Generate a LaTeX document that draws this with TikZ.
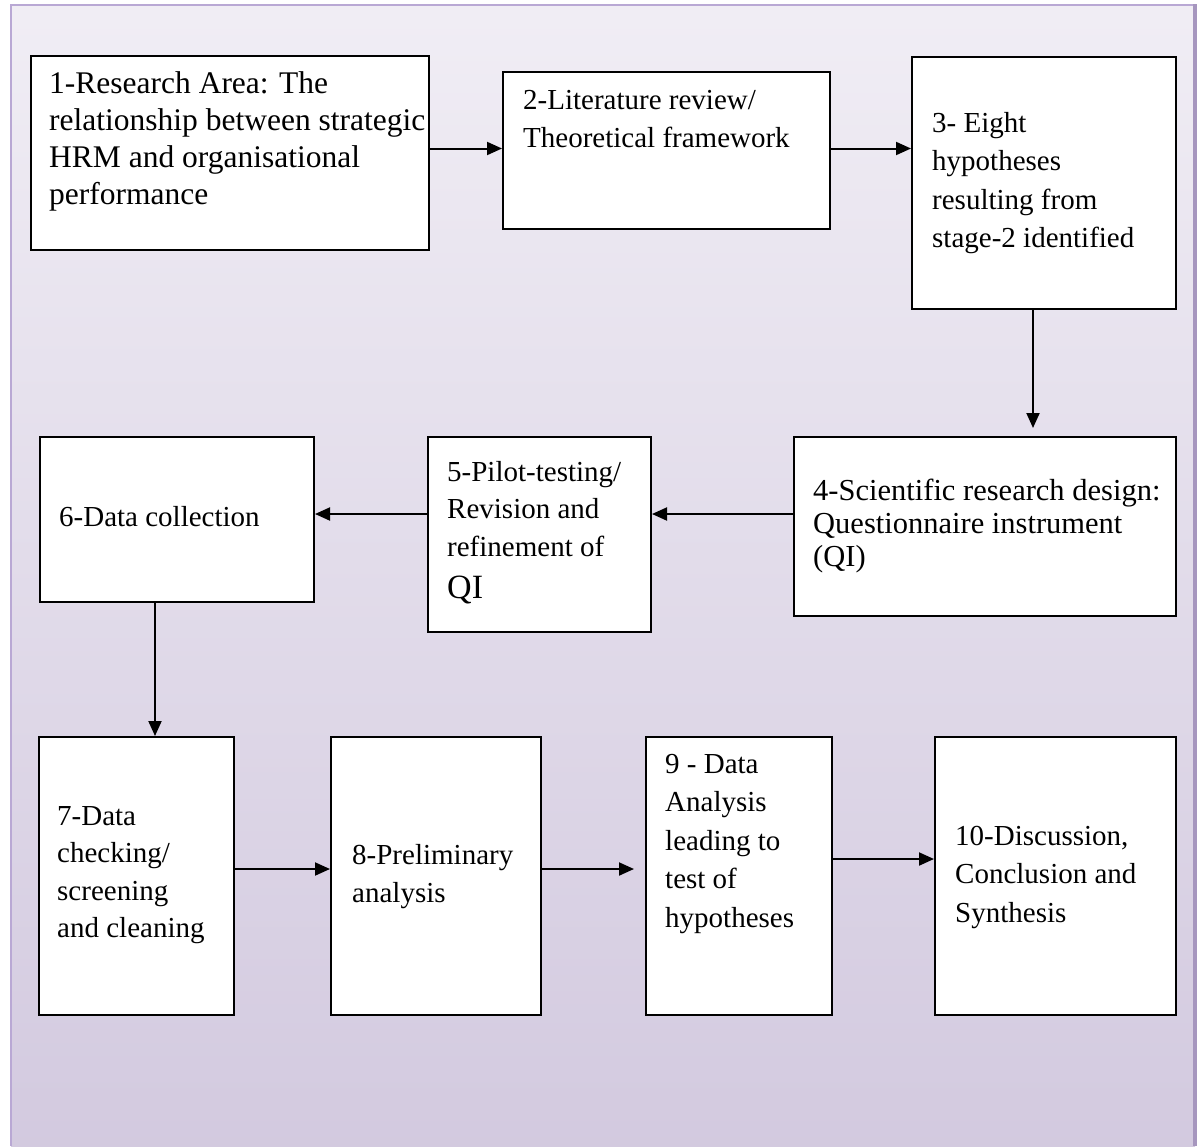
\documentclass[tikz,border=0pt]{standalone}
\usepackage{fontspec}
\setmainfont{Liberation Serif}
\usetikzlibrary{arrows.meta}

\definecolor{frameline}{RGB}{185,168,212}
\definecolor{frameedge}{RGB}{166,150,190}
\definecolor{lavbot}{RGB}{202,191,217}
% fade from lavender (bottom) to white (top)
\pgfdeclareverticalshading{bgfade}{100bp}{color(0bp)=(lavbot); color(10bp)=(lavbot); color(100bp)=(white)}

\begin{document}
\begin{tikzpicture}[x=1pt,y=-1pt,
  stage/.style={draw=black, line width=2pt, fill=white, inner sep=0pt, anchor=north west},
  steptext/.style={anchor=north west, inner sep=0pt, align=left,
    font=\fontsize{29}{38}\selectfont},
  flow/.style={line width=2pt, -{Triangle[length=15pt,width=13pt]}}]

% canvas and framed background
\useasboundingbox (0,0) rectangle (1199,1146);
\fill[white] (0,0) rectangle (1199,1146);
\shade[shading=bgfade] (11,5) rectangle (1195,1146);
\draw[frameline, line width=2.5pt] (11,1146) -- (11,5) -- (1193,5);
\draw[frameedge, line width=4pt] (1195,4) -- (1195,1146);

% stage boxes
\node[stage, minimum width=398pt, minimum height=194pt] (n1) at (30,55) {};
\node[stage, minimum width=327pt, minimum height=157pt] (n2) at (502,71) {};
\node[stage, minimum width=264pt, minimum height=252pt] (n3) at (911,56) {};
\node[stage, minimum width=382pt, minimum height=179pt] (n4) at (793,436) {};
\node[stage, minimum width=223pt, minimum height=195pt] (n5) at (427,436) {};
\node[stage, minimum width=274pt, minimum height=165pt] (n6) at (39,436) {};
\node[stage, minimum width=195pt, minimum height=278pt] (n7) at (38,736) {};
\node[stage, minimum width=210pt, minimum height=278pt] (n8) at (330,736) {};
\node[stage, minimum width=186pt, minimum height=278pt] (n9) at (645,736) {};
\node[stage, minimum width=241pt, minimum height=278pt] (n10) at (934,736) {};

% stage texts
\node[steptext, font=\fontsize{31.5}{37}\selectfont] (t1) at (49,70)
  {\rule{0pt}{23pt}1-Research Area: The\\relationship between strategic\\HRM and organisational\\performance};
\node[steptext] (t2) at (523,87)
  {\rule{0pt}{22pt}2-Literature review/\\Theoretical framework};
\node[steptext, font=\fontsize{29}{38.5}\selectfont] (t3) at (932,110)
  {\rule{0pt}{22pt}3- Eight\\hypotheses\\resulting from\\stage-2 identified};
\node[steptext, font=\fontsize{30.5}{33}\selectfont] (t4) at (813,477)
  {\rule{0pt}{23pt}4-Scientific research design:\\Questionnaire instrument\\(QI)};
\node[steptext, font=\fontsize{29}{37.5}\selectfont] (t5) at (447,459)
  {\rule{0pt}{22pt}5-Pilot-testing/\\Revision and\\refinement of\\[5pt]{\fontsize{34}{38}\selectfont QI}};
\node[steptext] (t6) at (59,504)
  {\rule{0pt}{22pt}6-Data collection};
\node[steptext, font=\fontsize{29}{37.5}\selectfont] (t7) at (57,803)
  {\rule{0pt}{22pt}7-Data\\checking/\\screening\\and cleaning};
\node[steptext, font=\fontsize{29}{38.5}\selectfont] (t8) at (352,842)
  {\rule{0pt}{22pt}8-Preliminary\\analysis};
\node[steptext, font=\fontsize{29}{38.5}\selectfont] (t9) at (665,751)
  {\rule{0pt}{22pt}9 - Data\\Analysis\\leading to\\test of\\hypotheses};
\node[steptext, font=\fontsize{29}{38.5}\selectfont] (t10) at (955,823)
  {\rule{0pt}{22pt}10-Discussion,\\Conclusion and\\Synthesis};

% flow arrows
\draw[flow] ([yshift=2pt]n2.west -| n1.east) -- ([yshift=2pt]n2.west);
\draw[flow] ([yshift=2pt]n2.east) -- ([yshift=2pt]n2.east -| n3.west);
\draw[flow, shorten >=8pt] ([xshift=-11pt]n3.south) -- ([xshift=-11pt]n3.south |- n4.north);
\draw[flow] ([yshift=12.5pt]n4.west) -- ([yshift=12.5pt]n4.west -| n5.east);
\draw[flow] ([yshift=20.5pt]n5.west) -- ([yshift=20.5pt]n5.west -| n6.east);
\draw[flow] ([xshift=-22pt]n6.south) -- ([xshift=-22pt]n6.south |- n7.north);
\draw[flow] ([yshift=7pt]n7.east) -- ([yshift=7pt]n7.east -| n8.west);
\draw[flow, shorten >=11pt] ([yshift=7pt]n8.east) -- ([yshift=7pt]n8.east -| n9.west);
\draw[flow] ([yshift=17pt]n9.east) -- ([yshift=17pt]n9.east -| n10.west);
\end{tikzpicture}
\end{document}
